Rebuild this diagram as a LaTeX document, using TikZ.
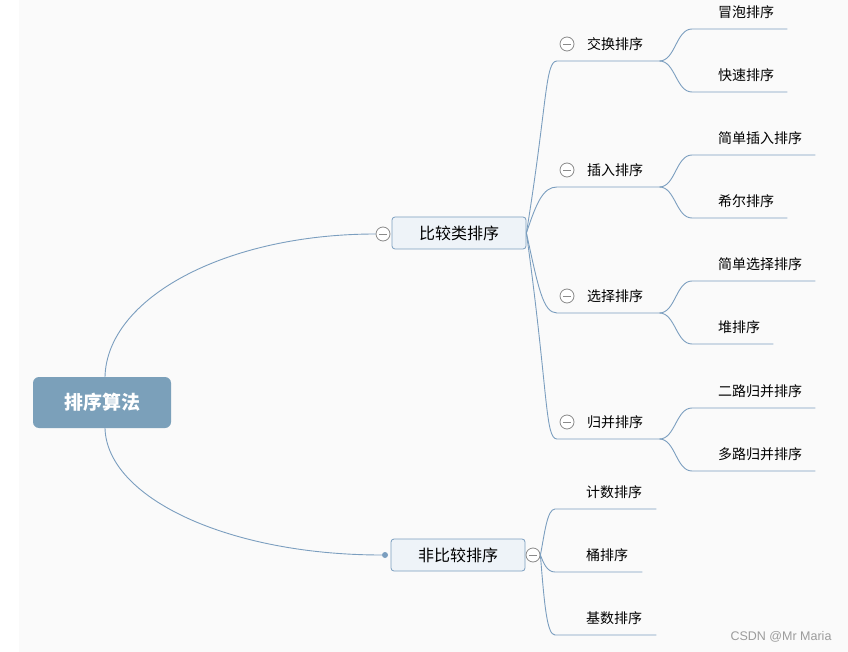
\documentclass[tikz,border=0pt]{standalone}
\usepackage{fontspec}
\setmainfont{Noto Sans CJK SC}
\newfontfamily\markfont{Liberation Sans}
\usetikzlibrary{calc}
\definecolor{rootBlue}{HTML}{7BA0BA}
\definecolor{lineBlue}{HTML}{7B9EBF}
\definecolor{boxFill}{HTML}{EEF3F8}
\definecolor{pageGray}{HTML}{FAFAFA}
\definecolor{foldGray}{HTML}{8A8A8A}

\begin{document}
\begin{tikzpicture}[x=1pt, y=-1pt,
    rootTopic/.style={rectangle, rounded corners=6pt, fill=rootBlue, text=white, font=\fontsize{19}{22}\selectfont\bfseries, minimum width=138pt, minimum height=51pt},
    mainTopic/.style={rectangle, rounded corners=3pt, draw=lineBlue, fill=boxFill, line width=0.8pt, font=\fontsize{16}{19}\selectfont, minimum width=134pt, minimum height=32pt},
    subTopic/.style={anchor=south west, inner xsep=0pt, inner ysep=8.5pt, text height=10pt, text depth=3pt, font=\fontsize{14}{17}\selectfont},
    branchLine/.style={draw=lineBlue, line width=0.9pt},
    foldMark/.style={circle, draw=foldGray, fill=white, line width=0.8pt, minimum size=14pt, inner sep=0pt, path picture={\draw[foldGray, line width=0.8pt] ([xshift=3pt]path picture bounding box.west) -- ([xshift=-3pt]path picture bounding box.east);}},
    joinDot/.style={circle, fill=lineBlue, minimum size=6pt, inner sep=0pt}
]
    \useasboundingbox (0,0) rectangle (848,652);
    \fill[pageGray] (19,0) rectangle (848,652);

    % root and the two main topics
    \node[rootTopic] (root) at (102,402.5) {排序算法};
    \node[mainTopic] (cmp) at (459,233) {比较类排序};
    \node[mainTopic] (noncmp) at (458,555) {非比较排序};
    \node[foldMark] (cmpFold) at (383,234) {};
    \node[joinDot] (noncmpDot) at (385,555) {};
    \node[foldMark] (noncmpFold) at (533,555) {};

    % second level
    \node[subTopic] (swap) at (587,61) {交换排序};
    \node[subTopic] (insert) at (587,187) {插入排序};
    \node[subTopic] (select) at (587,313) {选择排序};
    \node[subTopic] (merge) at (587,439) {归并排序};
    \node[foldMark] (swapFold) at (567,44) {};
    \node[foldMark] (insertFold) at (567,170) {};
    \node[foldMark] (selectFold) at (567,296) {};
    \node[foldMark] (mergeFold) at (567,422) {};

    \node[subTopic] (count) at (586,509) {计数排序};
    \node[subTopic] (bucket) at (586,572) {桶排序};
    \node[subTopic] (radix) at (586,635) {基数排序};

    % leaves
    \node[subTopic] (bubble) at (718,29) {冒泡排序};
    \node[subTopic] (quick) at (718,92) {快速排序};
    \node[subTopic] (straightIns) at (718,155) {简单插入排序};
    \node[subTopic] (shell) at (718,218) {希尔排序};
    \node[subTopic] (straightSel) at (718,281) {简单选择排序};
    \node[subTopic] (heap) at (718,344) {堆排序};
    \node[subTopic] (twoWay) at (718,408) {二路归并排序};
    \node[subTopic] (multiWay) at (718,471) {多路归并排序};

    \node[font=\markfont\fontsize{12.5}{14}\selectfont, text=foldGray!85, anchor=east] (credit) at (835,637) {CSDN @Mr Maria};

    % connectors
    \draw[branchLine] ($(root.north)+(3,0)$) .. controls +(2,-79) and +(-150,0) .. (cmpFold.west);
    \draw[branchLine] ($(root.south)+(3,0)$) .. controls +(2,70) and +(-153,0) .. (noncmpDot.west);

    \draw[branchLine] (cmp.east) .. controls +(21,-130) and +(-12,0) .. ($(swap.south west)+(-30,0)$) -- ($(swap.south east)+(16,0)$) coordinate (swapEnd);
    \draw[branchLine] (cmp.east) .. controls +(10,-30) and +(-14,0) .. ($(insert.south west)+(-30,0)$) -- ($(insert.south east)+(16,0)$) coordinate (insertEnd);
    \draw[branchLine] (cmp.east) .. controls +(12,55) and +(-14,0) .. ($(select.south west)+(-30,0)$) -- ($(select.south east)+(16,0)$) coordinate (selectEnd);
    \draw[branchLine] (cmp.east) .. controls +(22,160) and +(-12,0) .. ($(merge.south west)+(-30,0)$) -- ($(merge.south east)+(16,0)$) coordinate (mergeEnd);

    \draw[branchLine] (swapEnd) .. controls +(16,0) and +(-16,0) .. ($(bubble.south west)+(-26,0)$) -- ($(bubble.south east)+(13,0)$);
    \draw[branchLine] (swapEnd) .. controls +(16,0) and +(-16,0) .. ($(quick.south west)+(-26,0)$) -- ($(quick.south east)+(13,0)$);
    \draw[branchLine] (insertEnd) .. controls +(16,0) and +(-16,0) .. ($(straightIns.south west)+(-26,0)$) -- ($(straightIns.south east)+(13,0)$);
    \draw[branchLine] (insertEnd) .. controls +(16,0) and +(-16,0) .. ($(shell.south west)+(-26,0)$) -- ($(shell.south east)+(13,0)$);
    \draw[branchLine] (selectEnd) .. controls +(16,0) and +(-16,0) .. ($(straightSel.south west)+(-26,0)$) -- ($(straightSel.south east)+(13,0)$);
    \draw[branchLine] (selectEnd) .. controls +(16,0) and +(-16,0) .. ($(heap.south west)+(-26,0)$) -- ($(heap.south east)+(13,0)$);
    \draw[branchLine] (mergeEnd) .. controls +(16,0) and +(-16,0) .. ($(twoWay.south west)+(-26,0)$) -- ($(twoWay.south east)+(13,0)$);
    \draw[branchLine] (mergeEnd) .. controls +(16,0) and +(-16,0) .. ($(multiWay.south west)+(-26,0)$) -- ($(multiWay.south east)+(13,0)$);

    \draw[branchLine] (noncmpFold.east) .. controls +(4,-20) and +(-8,0) .. ($(count.south west)+(-31,0)$) -- ($(count.south east)+(14,0)$);
    \draw[branchLine] (noncmpFold.east) .. controls +(3,8) and +(-8,0) .. ($(bucket.south west)+(-31,0)$) -- ($(bucket.south east)+(14,0)$);
    \draw[branchLine] (noncmpFold.east) .. controls +(4,50) and +(-8,0) .. ($(radix.south west)+(-31,0)$) -- ($(radix.south east)+(14,0)$);
\end{tikzpicture}
\end{document}
